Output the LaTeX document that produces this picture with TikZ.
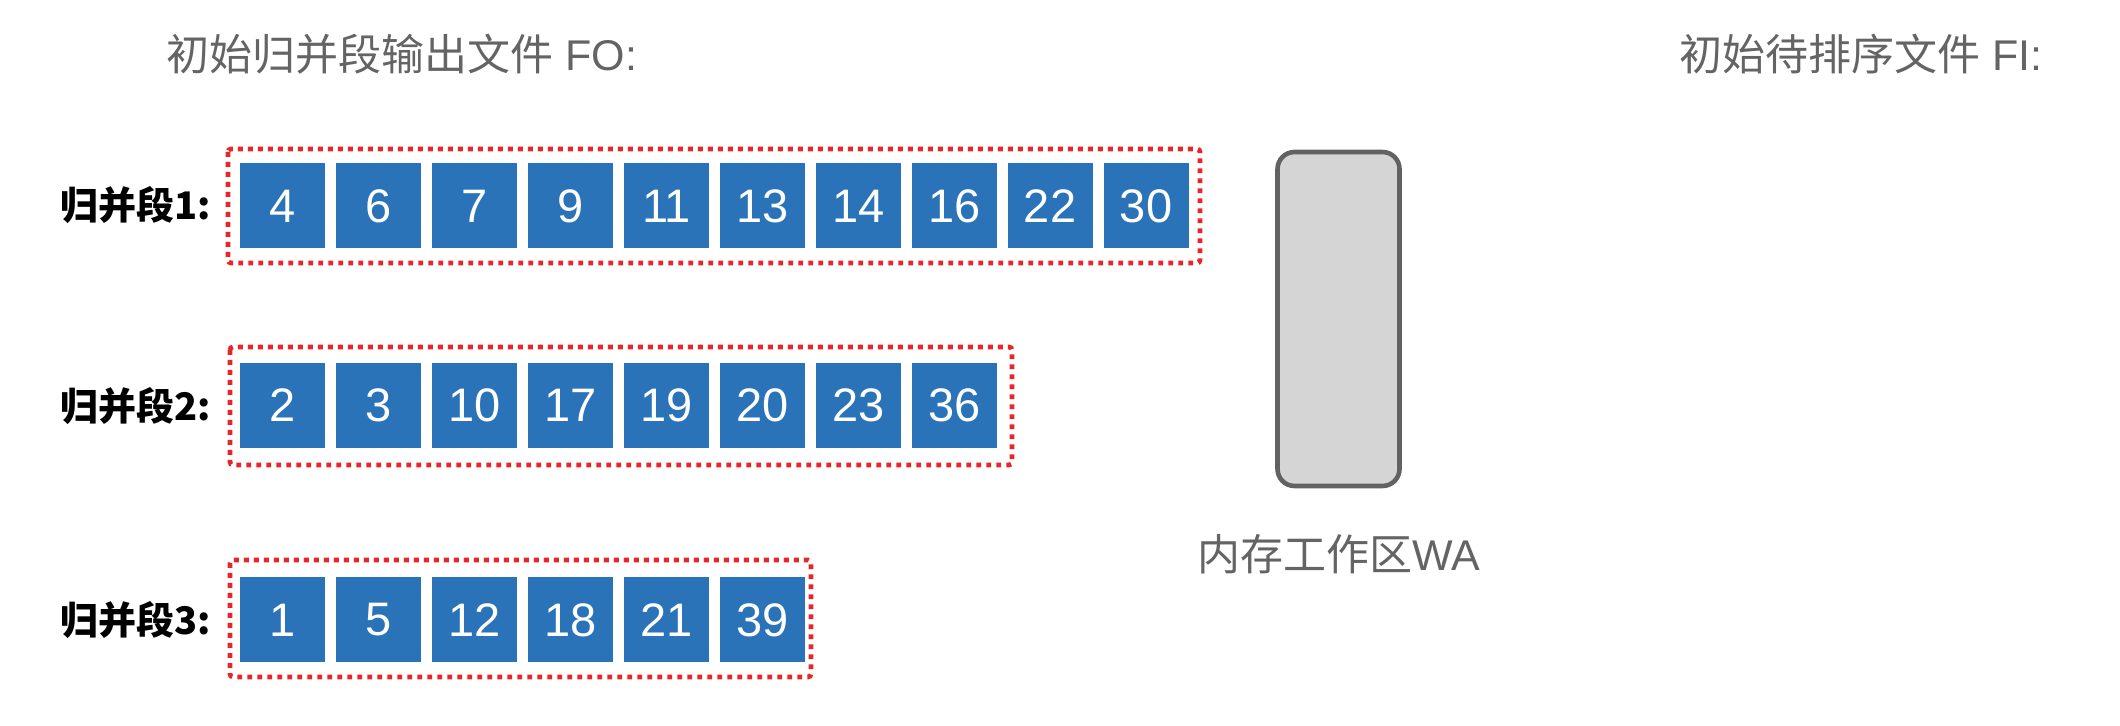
\documentclass[tikz,border=0pt]{standalone}
\usepackage{fontspec}
\setmainfont{Liberation Sans}
\newfontfamily\cjk{Noto Sans CJK SC}
\newfontfamily\digits{Liberation Sans}
\definecolor{boxblue}{HTML}{2B73B8}
\definecolor{segred}{HTML}{E8262A}
\definecolor{txtgray}{HTML}{646464}
\definecolor{wafill}{HTML}{D5D5D5}
\definecolor{wastroke}{HTML}{626262}
\tikzset{
  numbox/.style={fill=boxblue, draw=none, minimum width=42.5pt, minimum height=42.5pt,
    inner sep=0pt, text=white, font=\digits\fontsize{23.5}{23.5}\selectfont, anchor=north west},
  segframe/.style={draw=segred, line width=2.4pt, dash pattern=on 2.4pt off 2.6pt, rounded corners=1.5pt},
  seglabel/.style={anchor=east, inner sep=0pt, font=\cjk\bfseries\fontsize{19}{19}\selectfont, text=black},
  title/.style={anchor=west, inner sep=0pt, font=\cjk\fontsize{21.5}{21.5}\selectfont, text=txtgray}
}
\tikzset{wabox/.style={draw=wastroke, fill=wafill, line width=2.3pt, rounded corners=8.5pt}}
\begin{document}
\begin{tikzpicture}[x=0.5pt, y=-0.5pt]
\useasboundingbox (0,0) rectangle (2120,726);
% titles
\node[title] (tfo) at (166,54.5) {初始归并段输出文件{\digits\ FO:}};
\node[title] (tfi) at (1679,54.5) {初始待排序文件{\digits\ FI:}};
% frames
\draw[segframe] (228,149) rectangle (1200,263);
\draw[segframe] (230,347) rectangle (1012,465);
\draw[segframe] (230,560) rectangle (811,677);
% row 1
\foreach \v [count=\i from 0] in {4,6,7,9,11,13,14,16,22,30}
  \node[numbox] (a\i) at (240+95.9*\i,163) {\v};
% row 2
\foreach \v [count=\i from 0] in {2,3,10,17,19,20,23,36}
  \node[numbox] (b\i) at (240+95.9*\i,362.5) {\v};
% row 3
\foreach \v [count=\i from 0] in {1,5,12,18,21,39}
  \node[numbox] (c\i) at (240+95.9*\i,577) {\v};
% labels
\node[seglabel] (l1) at (211,205.5) {归并段1:};
\node[seglabel] (l2) at (211,406) {归并段2:};
\node[seglabel] (l3) at (211,620.5) {归并段3:};
% memory work area
\draw[wabox] (1277.5,152) rectangle (1399.5,486) node[pos=0.5] (wa) {};
\node[title] (walabel) at (1197,554) {内存工作区{\digits WA}};
\end{tikzpicture}
\end{document}
